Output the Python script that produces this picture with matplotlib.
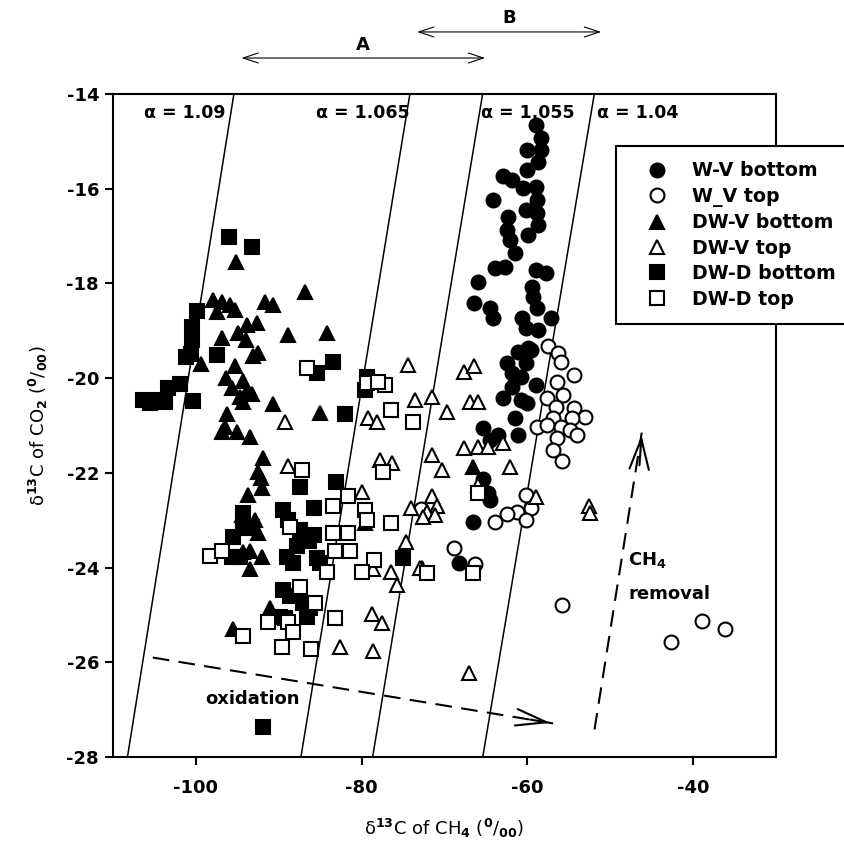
"""Stable carbon isotopes of CO2 vs CH4 with fractionation (alpha) lines."""
import matplotlib
matplotlib.use("Agg")
import matplotlib.pyplot as plt
import numpy as np

plt.rcParams["font.family"] = ["DejaVu Sans"]
plt.rcParams["font.weight"] = "bold"
plt.rcParams["mathtext.fontset"] = "dejavusans"
plt.rcParams["mathtext.default"] = "bf"
plt.rcParams["axes.unicode_minus"] = False

# (d13C-CH4, d13C-CO2), per permil
wv_bottom_x = [-58.9, -58.4, -60.0, -58.4, -58.7, -60.1, -63.0, -61.8, -60.5, -59.0,
               -58.8, -64.2, -60.2, -58.8, -62.3, -58.7, -59.9, -62.4, -62.1, -61.5,
               -62.7, -63.9, -59.0, -57.8, -65.9, -59.4, -59.3, -58.8, -66.5, -64.5,
               -64.1, -60.6, -57.2, -60.2, -58.7, -59.9, -61.1, -59.6, -62.4, -60.2,
               -61.8, -60.8, -59.0, -61.8, -62.9, -60.8, -60.0, -61.5, -65.4, -63.6,
               -61.1, -64.5, -65.3, -64.7, -64.5, -66.6, -68.2]
wv_bottom_y = [-14.65, -14.93, -15.18, -15.18, -15.43, -15.60, -15.73, -15.81, -15.98, -15.96,
               -16.24, -16.24, -16.45, -16.51, -16.60, -16.76, -16.98, -16.87, -17.08, -17.35,
               -17.65, -17.67, -17.71, -17.78, -17.97, -18.07, -18.28, -18.52, -18.41, -18.52,
               -18.73, -18.73, -18.73, -18.94, -18.98, -19.36, -19.44, -19.40, -19.68, -19.68,
               -19.89, -19.97, -20.14, -20.18, -20.41, -20.46, -20.52, -20.84, -21.05, -21.20,
               -21.20, -21.30, -22.14, -22.42, -22.57, -23.03, -23.90]

wv_top_x = [-57.5, -56.3, -56.0, -54.4, -56.4, -55.7, -57.6, -56.6, -54.4, -53.0,
            -56.9, -54.6, -58.8, -57.6, -56.0, -54.8, -54.0, -56.4, -56.9, -55.8,
            -60.2, -59.6, -61.2, -62.4, -63.9, -60.2, -68.9, -66.3, -72.8, -55.8,
            -42.7, -38.9, -36.2]
wv_top_y = [-19.32, -19.46, -19.65, -19.93, -20.08, -20.35, -20.41, -20.60, -20.63, -20.82,
            -20.84, -20.84, -21.03, -20.98, -21.03, -21.09, -21.20, -21.26, -21.51, -21.76,
            -22.46, -22.74, -22.82, -22.86, -23.03, -22.99, -23.58, -23.92, -22.76, -24.80,
            -25.58, -25.12, -25.29]

dwv_bottom_x = [-95.1, -97.9, -96.8, -95.9, -95.3, -97.4, -91.6, -90.7, -86.8, -93.8,
                -92.6, -94.9, -96.8, -93.9, -88.9, -84.2, -93.1, -92.5, -99.4, -95.3,
                -96.4, -94.3, -95.6, -93.8, -94.7, -93.2, -94.3, -90.7, -85.0, -96.2,
                -96.5, -96.8, -95.0, -93.5, -91.9, -92.5, -92.2, -93.7, -92.0, -94.4,
                -92.9, -93.8, -92.5, -94.3, -93.5, -92.0, -93.5, -91.0, -95.5, -79.6,
                -72.7, -66.6]
dwv_bottom_y = [-17.54, -18.35, -18.39, -18.45, -18.56, -18.60, -18.39, -18.45, -18.18, -18.87,
                -18.83, -19.04, -19.15, -19.19, -19.09, -19.04, -19.53, -19.46, -19.70, -19.74,
                -19.99, -20.06, -20.20, -20.27, -20.39, -20.33, -20.50, -20.54, -20.73, -20.75,
                -21.03, -21.13, -21.13, -21.24, -21.68, -21.98, -22.10, -22.46, -22.31, -22.88,
                -22.99, -23.16, -23.26, -23.68, -23.66, -23.77, -24.04, -24.85, -25.29, -23.05,
                -24.00, -21.87]

dwv_top_x = [-74.4, -67.7, -66.4, -73.5, -71.5, -69.7, -66.9, -65.9, -79.2, -78.1,
             -79.9, -77.8, -76.3, -71.5, -70.3, -67.7, -66.0, -64.7, -63.0, -65.9,
             -71.5, -74.1, -70.9, -72.1, -71.1, -72.6, -74.7, -78.6, -76.5, -75.7,
             -72.9, -78.7, -77.5, -82.6, -78.6, -67.1, -89.2, -88.9, -62.1, -59.0,
             -52.6, -52.4]
dwv_top_y = [-19.72, -19.87, -19.74, -20.46, -20.39, -20.71, -20.50, -20.50, -20.84, -20.92,
             -22.40, -21.72, -21.79, -21.62, -21.93, -21.47, -21.45, -21.45, -21.36, -22.25,
             -22.48, -22.74, -22.71, -22.82, -22.88, -22.93, -23.47, -24.04, -24.09, -24.36,
             -24.00, -24.99, -25.16, -25.67, -25.77, -26.22, -20.92, -21.85, -21.87, -22.52,
             -22.71, -22.84]

dwd_bottom_x = [-96.0, -93.2, -99.9, -100.5, -100.5, -100.6, -101.2, -97.4, -85.4, -83.4,
                -103.4, -101.9, -104.6, -103.7, -100.3, -105.5, -106.4, -82.0, -79.4, -79.6,
                -87.4, -83.1, -94.3, -94.3, -95.5, -93.2, -95.6, -94.7, -89.5, -85.7,
                -88.9, -87.4, -85.8, -86.4, -87.8, -89.0, -88.3, -85.4, -85.0, -89.5,
                -88.6, -87.1, -86.2, -89.8, -89.2, -86.6, -75.0, -91.9]
dwd_bottom_y = [-17.02, -17.23, -18.58, -18.92, -19.19, -19.49, -19.55, -19.51, -19.89, -19.65,
                -20.20, -20.12, -20.46, -20.50, -20.48, -20.52, -20.46, -20.75, -19.97, -20.25,
                -22.29, -22.19, -22.84, -23.16, -23.35, -23.14, -23.77, -23.77, -22.78, -22.74,
                -22.99, -23.20, -23.31, -23.43, -23.54, -23.77, -23.90, -23.79, -23.90, -24.47,
                -24.61, -24.74, -24.85, -25.04, -25.06, -25.04, -23.79, -27.36]

dwd_top_x = [-86.6, -79.3, -77.2, -76.5, -73.8, -78.0, -77.4, -81.7, -79.6, -79.3,
             -83.4, -81.6, -76.5, -83.2, -81.4, -84.2, -78.5, -79.9, -72.1, -66.6,
             -65.9, -83.2, -87.2, -88.6, -98.3, -96.8, -87.4, -85.6, -91.3, -88.9,
             -88.3, -94.3, -89.6, -86.1, -83.4]
dwd_top_y = [-19.78, -20.10, -20.14, -20.67, -20.92, -20.08, -21.98, -22.48, -22.78, -22.99,
             -23.26, -23.26, -23.05, -23.64, -23.66, -24.09, -23.85, -24.09, -24.11, -24.11,
             -22.42, -25.06, -21.93, -23.14, -23.75, -23.66, -24.40, -24.74, -25.14, -25.14,
             -25.37, -25.44, -25.67, -25.71, -22.71]

alphas = [1.09, 1.065, 1.055, 1.04]
alpha_labels = ["α = 1.09", "α = 1.065", "α = 1.055", "α = 1.04"]
alpha_label_x = [-101.3, -79.8, -60.0, -46.7]

fig = plt.figure(figsize=(8.44, 8.5), dpi=100)
ax = fig.add_axes([113 / 844, 1 - 757 / 850, 663 / 844, 663 / 850])

# fractionation lines: alpha = (dCO2 + 1000) / (dCH4 + 1000)
co2 = np.array([-28.0, -14.0])
for a in alphas:
    ax.plot((co2 + 1000) / a - 1000, co2, color="black", lw=1.1, zorder=1)
for lab, x in zip(alpha_labels, alpha_label_x):
    ax.text(x, -14.4, lab, ha="center", va="center", fontsize=12.5)

ms, mew = 10, 1.5
series = [
    (wv_bottom_x, wv_bottom_y, "o", "black", "W-V bottom"),
    (wv_top_x, wv_top_y, "o", "white", "W_V top"),
    (dwv_bottom_x, dwv_bottom_y, "^", "black", "DW-V bottom"),
    (dwv_top_x, dwv_top_y, "^", "white", "DW-V top"),
    (dwd_bottom_x, dwd_bottom_y, "s", "black", "DW-D bottom"),
    (dwd_top_x, dwd_top_y, "s", "white", "DW-D top"),
]
handles = []
for x, y, m, fc, lab in series:
    h, = ax.plot(x, y, ls="none", marker=m, ms=ms, mew=mew, mfc=fc, mec="black",
                 label=lab, zorder=3)
    handles.append(h)

# process arrows
ax.plot([-105.2, -56.9], [-25.90, -27.29], color="black", lw=1.5,
        dashes=(8, 4.5), zorder=2)
ax.annotate("", xy=(-56.9, -27.29), xytext=(-60.0, -27.20),
            arrowprops=dict(arrowstyle="->,head_length=1.1,head_width=0.3",
                            lw=1.5, color="black", mutation_scale=20))
ax.text(-93.2, -26.77, "oxidation", ha="center", va="center", fontsize=13)

ax.plot([-51.9, -46.2], [-27.42, -21.15], color="black", lw=1.5,
        dashes=(8, 4.5), zorder=2)
ax.annotate("", xy=(-46.2, -21.15), xytext=(-46.5, -21.9),
            arrowprops=dict(arrowstyle="->,head_length=1.1,head_width=0.35",
                            lw=1.5, color="black", mutation_scale=20))
ax.text(-47.8, -23.85, "CH$_4$", ha="left", va="center", fontsize=13)
ax.text(-47.8, -24.55, "removal", ha="left", va="center", fontsize=13)

# ranges A and B above the frame
for x0, x1, y, lab, ly in [(-94.5, -65.1, -13.24, "A", -12.97),
                           (-73.3, -51.1, -12.69, "B", -12.40)]:
    ax.annotate("", xy=(x1, y), xytext=(x0, y), annotation_clip=False,
                arrowprops=dict(arrowstyle="<->,head_length=0.9,head_width=0.3",
                                lw=0.8, color="black", mutation_scale=12,
                                shrinkA=0, shrinkB=0))
    ax.text((x0 + x1) / 2, ly, lab, ha="center", va="center", fontsize=13,
            clip_on=False)

ax.set_xlim(-110, -30)
ax.set_ylim(-28, -14)
ax.set_xticks([-100, -80, -60, -40])
ax.set_yticks(np.arange(-28, -13, 2))
ax.tick_params(direction="out", length=6, width=1.5, labelsize=13, pad=10)
ax.tick_params(axis="y", pad=4)
for s in ax.spines.values():
    s.set_linewidth(1.5)

ax.set_xlabel("δ$^{13}$C of CH$_4$ ($^0$/$_{00}$)", fontsize=13, labelpad=14)
ax.set_ylabel("δ$^{13}$C of CO$_2$ ($^0$/$_{00}$)", fontsize=13, labelpad=12)

leg = ax.legend(handles=handles, loc="upper left",
                bbox_to_anchor=(616 / 844, 1 - 146 / 850),
                bbox_transform=fig.transFigure, borderaxespad=0,
                fancybox=False, framealpha=1, edgecolor="black",
                fontsize=13.7, handlelength=2.7, handletextpad=0.5,
                labelspacing=0.34, borderpad=0.8)
leg.get_frame().set_linewidth(1.5)

fig.savefig("out.png", dpi=100)
